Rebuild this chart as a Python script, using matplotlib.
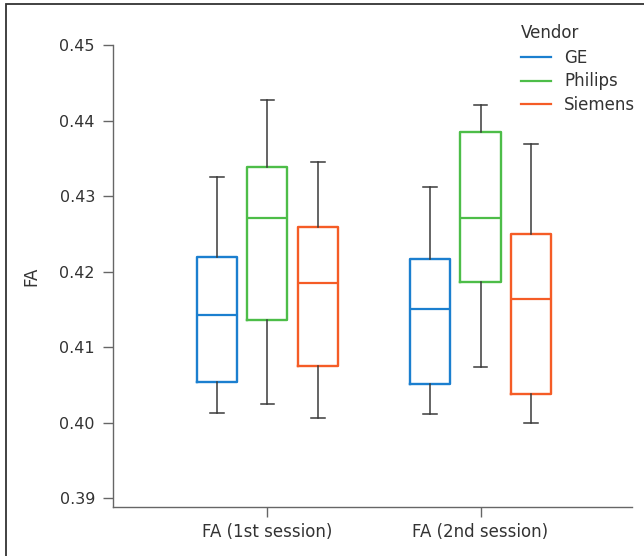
import matplotlib
matplotlib.use("Agg")
import matplotlib.pyplot as plt
from matplotlib.lines import Line2D
from matplotlib.patches import Rectangle

sessions = ["FA (1st session)", "FA (2nd session)"]
vendors = ["GE", "Philips", "Siemens"]
colors = ["#1b7fcf", "#4dbd48", "#f55c26"]

# [whislo, q1, median, q3, whishi] per session
ge_stats = [[0.40125, 0.40543, 0.4143, 0.4219, 0.43257],
            [0.40116, 0.40513, 0.4151, 0.42163, 0.43124]]
philips_stats = [[0.40248, 0.4136, 0.42714, 0.43389, 0.44272],
                 [0.40742, 0.41859, 0.42714, 0.43852, 0.44206]]
siemens_stats = [[0.40067, 0.40755, 0.41854, 0.42587, 0.43447],
                 [0.39993, 0.4038, 0.41638, 0.42502, 0.43686]]
all_stats = [ge_stats, philips_stats, siemens_stats]

yticks = [0.39, 0.40, 0.41, 0.42, 0.43, 0.44, 0.45]

W, H = 644, 556
fig = plt.figure(figsize=(W / 100, H / 100), dpi=100)
ax = fig.add_axes([113 / W, (H - 506.7) / H, (632 - 113) / W, (506.7 - 45) / H])

text_color = "#333333"
offsets = [-0.237, 0.0, 0.237]
box_w = 0.188

for vi, (vstats, col) in enumerate(zip(all_stats, colors)):
    bstats = []
    for s in vstats:
        bstats.append(dict(whislo=s[0], q1=s[1], med=s[2], q3=s[3], whishi=s[4], fliers=[]))
    pos = [gi + offsets[vi] for gi in range(len(sessions))]
    ax.bxp(bstats, positions=pos, widths=box_w, capwidths=0.062, showfliers=False,
           patch_artist=False, manage_ticks=False,
           boxprops=dict(color=col, linewidth=1.7),
           medianprops=dict(color=col, linewidth=1.6),
           whiskerprops=dict(color="#3a3a3a", linewidth=1.1),
           capprops=dict(color="#3a3a3a", linewidth=1.1))

ax.set_xlim(-0.725, 1.711)
ax.set_ylim(0.3889, 0.45)
ax.set_yticks(yticks)
ax.set_yticklabels([f"{v:.2f}" for v in yticks])
ax.set_xticks(range(len(sessions)))
ax.set_xticklabels(sessions)

for sp in ["top", "right"]:
    ax.spines[sp].set_visible(False)
for sp in ["left", "bottom"]:
    ax.spines[sp].set_color("#666666")
    ax.spines[sp].set_linewidth(1.0)

ax.tick_params(axis="both", colors="#666666", labelcolor=text_color, labelsize=11.5,
               length=7, width=1.0, direction="out")
ax.tick_params(axis="x", pad=5, labelsize=12)
ax.tick_params(axis="y", pad=6)
ax.set_ylabel("FA", fontsize=12, color=text_color, labelpad=14)

handles = [Line2D([0], [0], color=c, linewidth=1.6) for c in colors]
leg = ax.legend(handles, vendors, title="Vendor", loc="upper left",
                bbox_to_anchor=(521 / W, (H - 24) / H), bbox_transform=fig.transFigure,
                frameon=False, fontsize=12, title_fontsize=12, handlelength=1.8,
                handletextpad=0.8, labelspacing=0.33, borderpad=0, borderaxespad=0,
                alignment="left")
leg._legend_box.sep = 5
for t in leg.get_texts():
    t.set_color(text_color)
leg.get_title().set_color(text_color)

fig.patches.append(Rectangle((6 / W, -0.5), 2.0, (H - 4) / H + 0.5, transform=fig.transFigure,
                             fill=False, edgecolor="#333333", linewidth=1.3, clip_on=False))

fig.savefig("out.png", dpi=100)
